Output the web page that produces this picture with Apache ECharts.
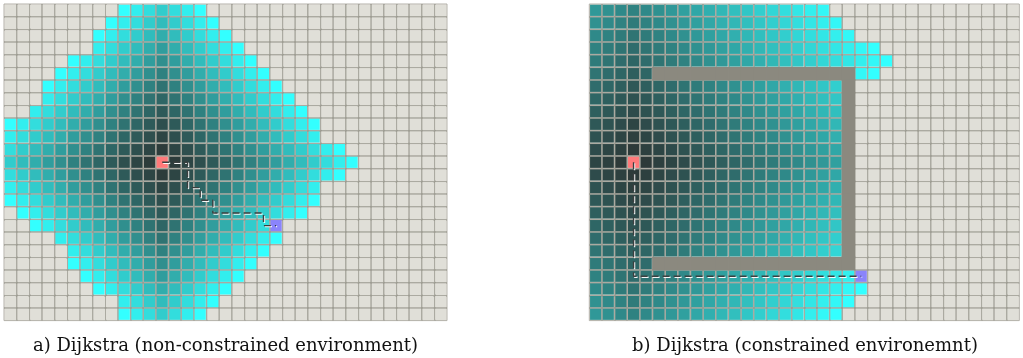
<!DOCTYPE html>
<html>
<head>
<meta charset="utf-8">
<script src="https://cdn.jsdelivr.net/npm/echarts@6/dist/echarts.min.js"></script>
<style>
  html, body { margin: 0; padding: 0; background: #ffffff; }
  #chart { width: 1023px; height: 358px; }
</style>
</head>
<body>
<div id="chart"></div>
<script>
// Dijkstra search on a 4-connected grid, two environments.
// Each row: [first visited column, per-cell codes]. Codes are the cost-to-come
// in base 36; 'S' start, 'G' goal, '#' obstacle. Columns outside are unvisited.
const leftCols = 35;
const leftRowCount = 25;
const leftRows = [
  [9, 'fedcdef'],
  [8, 'fedcbcdef'],
  [7, 'fedcbabcdef'],
  [7, 'edcba9abcdef'],
  [5, 'fedcba989abcdef'],
  [4, 'fedcba98789abcdef'],
  [3, 'fedcba9876789abcdef'],
  [3, 'edcba987656789abcdef'],
  [2, 'edcba98765456789abcdef'],
  [0, 'fedcba9876543456789abcdef'],
  [0, 'edcba987654323456789abcde'],
  [0, 'dcba98765432123456789abcdef'],
  [0, 'cba987654321S123456789abcdef'],
  [0, 'dcba98765432123456789abcdef'],
  [0, 'edcba987654323456789abcde'],
  [0, 'fedcba9876543456789abcdef'],
  [1, 'fedcba98765456789abcdef'],
  [2, 'fedcba987656789abcdG'],
  [4, 'edcba9876789abcdef'],
  [5, 'edcba98789abcdef'],
  [5, 'fedcba989abcdef'],
  [6, 'fedcba9abcdef'],
  [7, 'fedcbabcdef'],
  [9, 'edcbcdef'],
  [9, 'fedcdef']
];
const leftMaxCost = 15;
const leftPath = [[12, 12], [14, 12], [14, 14], [15, 14], [15, 15], [16, 15], [16, 16], [20, 16], [20, 17], [21, 17]];

const rightCols = 34;
const rightRowCount = 25;
const rightRows = [
  [0, 'fedcdefghijklmnopqr'],
  [0, 'edcbcdefghijklmnopqr'],
  [0, 'dcbabcdefghijklmnopqr'],
  [0, 'cba9abcdefghijklmnopqrs'],
  [0, 'ba989abcdefghijklmnopqrs'],
  [0, 'a9878################rs'],
  [0, '9876789abcdefghijklm#'],
  [0, '87656789abcdefghijkl#'],
  [0, '765456789abcdefghijk#'],
  [0, '6543456789abcdefghij#'],
  [0, '54323456789abcdefghi#'],
  [0, '432123456789abcdefgh#'],
  [0, '321S123456789abcdefg#'],
  [0, '432123456789abcdefgh#'],
  [0, '54323456789abcdefghi#'],
  [0, '6543456789abcdefghij#'],
  [0, '765456789abcdefghijk#'],
  [0, '87656789abcdefghijkl#'],
  [0, '9876789abcdefghijklm#'],
  [0, 'a98789abcdefghijklmn#'],
  [0, 'ba989################'],
  [0, 'cba9abcdefghijklmnopqG'],
  [0, 'dcbabcdefghijklmnopqrs'],
  [0, 'edcbcdefghijklmnopqrs'],
  [0, 'fedcdefghijklmnopqrs']
];
const rightMaxCost = 28;
const rightPath = [[3, 12], [3, 21], [21, 21]];

const captions = ['a) Dijkstra (non-constrained environment)', 'b) Dijkstra (constrained environemnt)'];

// cell kinds carried in the third dimension
const UNVISITED = -1, OBSTACLE = -2, START = -3, GOAL = -4;

function cellsFrom(rows, nCols) {
  const out = [];
  rows.forEach(([first, codes], y) => {
    for (let x = 0; x < nCols; x++) {
      const i = x - first;
      const c = (i >= 0 && i < codes.length) ? codes[i] : '.';
      let v;
      if (c === '.') v = UNVISITED;
      else if (c === '#') v = OBSTACLE;
      else if (c === 'S') v = START;
      else if (c === 'G') v = GOAL;
      else v = parseInt(c, 36);
      out.push([x, y, v]);
    }
  });
  return out;
}

const COL_UNVISITED = '#e0dfd8';
const COL_LINE = '#9a988f';
const COL_OBSTACLE = '#8b897f';
const COL_START = '#ff7a7a';
const COL_GOAL = '#8a84fb';
const DARK = [45, 54, 53];
const BRIGHT = [51, 255, 255];

// dark grey-teal at the start, bright cyan at the largest cost
function costColor(cost, maxCost, gamma) {
  const t = Math.pow(Math.max(0, Math.min(1, cost / maxCost)), gamma);
  const c = DARK.map((d, k) => Math.round(d + (BRIGHT[k] - d) * t));
  return 'rgb(' + c.join(',') + ')';
}

function cellRenderer(maxCost, gamma) {
  return function (params, api) {
    const x = api.value(0), y = api.value(1), v = api.value(2);
    const a = api.coord([x, y]);
    const b = api.coord([x + 1, y + 1]);
    let fill;
    if (v === UNVISITED) fill = COL_UNVISITED;
    else if (v === OBSTACLE) fill = COL_OBSTACLE;
    else if (v === START) fill = COL_START;
    else if (v === GOAL) fill = COL_GOAL;
    else fill = costColor(v, maxCost, gamma);
    const inset = v === OBSTACLE ? -0.3 : 0.75;
    const x0 = Math.min(a[0], b[0]), y0 = Math.min(a[1], b[1]);
    const w = Math.abs(b[0] - a[0]), h = Math.abs(b[1] - a[1]);
    return {
      type: 'rect',
      shape: { x: x0 + inset, y: y0 + inset, width: w - 2 * inset, height: h - 2 * inset },
      style: { fill: fill }
    };
  };
}

function hiddenAxis(max, inverse) {
  return {
    type: 'value', min: 0, max: max, interval: 1, inverse: !!inverse,
    axisLine: { show: false }, axisTick: { show: false }, axisLabel: { show: false },
    splitLine: { show: true, showMinLine: false, showMaxLine: false, lineStyle: { color: COL_LINE, width: 1.5 } }
  };
}

// dashed path through cell centres, dark dashes with a light offset edge
function pathSeries(path, idx) {
  return {
    type: 'line', xAxisIndex: idx, yAxisIndex: idx, symbol: 'none', z: 6, silent: true,
    data: path.map(([x, y]) => [x + 0.5, y + 0.5]),
    lineStyle: {
      color: '#3b3f3f', width: 1.4, type: [7, 4],
      shadowColor: 'rgba(255,255,255,0.95)', shadowBlur: 0, shadowOffsetX: 1, shadowOffsetY: 1
    }
  };
}

const chart = echarts.init(document.getElementById('chart'), null, { renderer: 'canvas' });
const gridBox = { show: true, backgroundColor: COL_UNVISITED, borderColor: '#b3b1a9', borderWidth: 1 };
const titleStyle = { fontFamily: 'DejaVu Serif', fontSize: 18, fontWeight: 'normal', color: '#111111' };

chart.setOption({
  animation: false,
  backgroundColor: '#ffffff',
  title: [
    { text: captions[0], left: 225.5, top: 337, padding: 0, textAlign: 'center', textStyle: titleStyle },
    { text: captions[1], left: 805, top: 337, padding: 0, textAlign: 'center', textStyle: titleStyle }
  ],
  grid: [
    Object.assign({ left: 4, top: 4, width: 443, height: 316.6 }, gridBox),
    Object.assign({ left: 589.3, top: 4, width: 430, height: 316.6 }, gridBox)
  ],
  xAxis: [hiddenAxis(leftCols), Object.assign(hiddenAxis(rightCols), { gridIndex: 1 })],
  yAxis: [hiddenAxis(leftRowCount, true), Object.assign(hiddenAxis(rightRowCount, true), { gridIndex: 1 })],
  series: [
    {
      type: 'custom', xAxisIndex: 0, yAxisIndex: 0, silent: true,
      data: cellsFrom(leftRows, leftCols), renderItem: cellRenderer(leftMaxCost, 1.3)
    },
    {
      type: 'custom', xAxisIndex: 1, yAxisIndex: 1, silent: true,
      data: cellsFrom(rightRows, rightCols), renderItem: cellRenderer(rightMaxCost, 1.15)
    },
    pathSeries(leftPath, 0),
    pathSeries(rightPath, 1)
  ]
});
</script>
</body>
</html>
